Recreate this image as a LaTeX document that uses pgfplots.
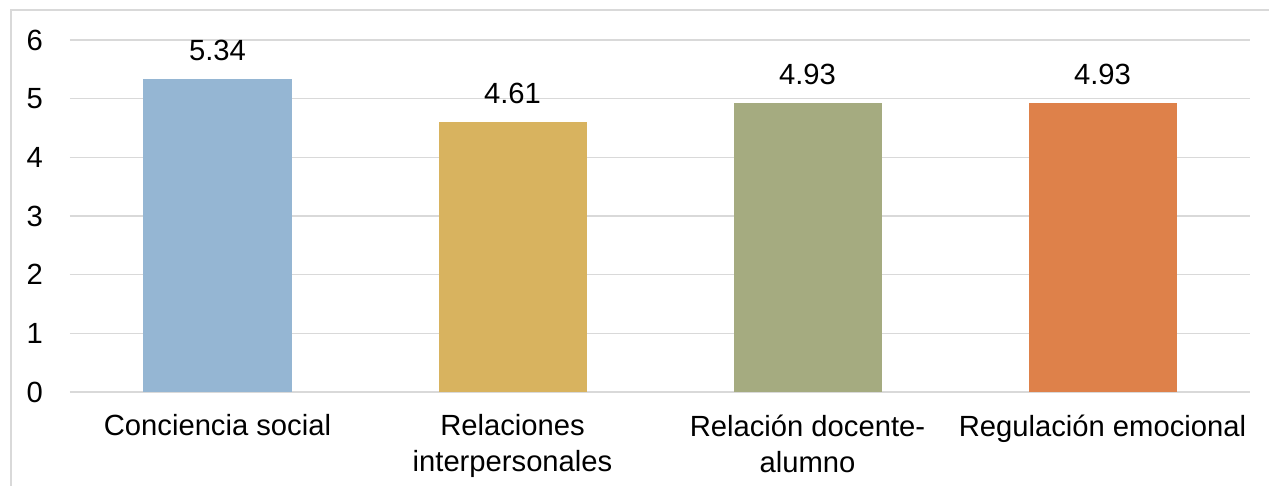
\documentclass[border=0pt]{standalone}
\usepackage{fontspec}
\setmainfont{Liberation Sans}
\usepackage{pgfplots}
\pgfplotsset{compat=1.18}
\definecolor{cblue}{HTML}{95B6D3}
\definecolor{cgold}{HTML}{D8B35F}
\definecolor{colive}{HTML}{A5AB80}
\definecolor{corange}{HTML}{DE814A}
\definecolor{gridc}{HTML}{D9D9D9}
\begin{document}
\begin{tikzpicture}[font=\fontsize{29.2}{36}\selectfont]
\useasboundingbox (0,0) rectangle (1269pt,486pt);
\draw[gridc, line width=1.5pt] (11pt,0) -- (11pt,476pt) -- (1275pt,476pt);
\begin{axis}[
  at={(70pt,94pt)}, anchor=south west,
  scale only axis, width=1180pt, height=352pt,
  xmin=-0.5, xmax=3.5, ymin=0, ymax=6,
  axis line style={draw=none},
  ymajorgrids, grid style={gridc, line width=1.6pt},
  major tick length=0pt,
  ytick={0,1,2,3,4,5,6},
  xtick={0,1,2,3},
  xticklabels={Conciencia social, Relaciones\\interpersonales, Relación docente-\\alumno, Regulación emocional},
  xticklabel style={align=center, yshift=-19pt},
  yticklabel style={xshift=-23.5pt},
  /pgf/number format/assume math mode=true,
  /pgf/number format/fixed, /pgf/number format/precision=2,
  ybar, bar width=148pt, bar shift=0pt,
  nodes near coords,
  nodes near coords style={anchor=south, yshift=14pt, text=black},
  clip=false,
]
\addplot[fill=cblue, draw=none] coordinates {(0,5.34)};
\addplot[fill=cgold, draw=none] coordinates {(1,4.61)};
\addplot[fill=colive, draw=none] coordinates {(2,4.93)};
\addplot[fill=corange, draw=none] coordinates {(3,4.93)};
\end{axis}
\end{tikzpicture}
\end{document}
